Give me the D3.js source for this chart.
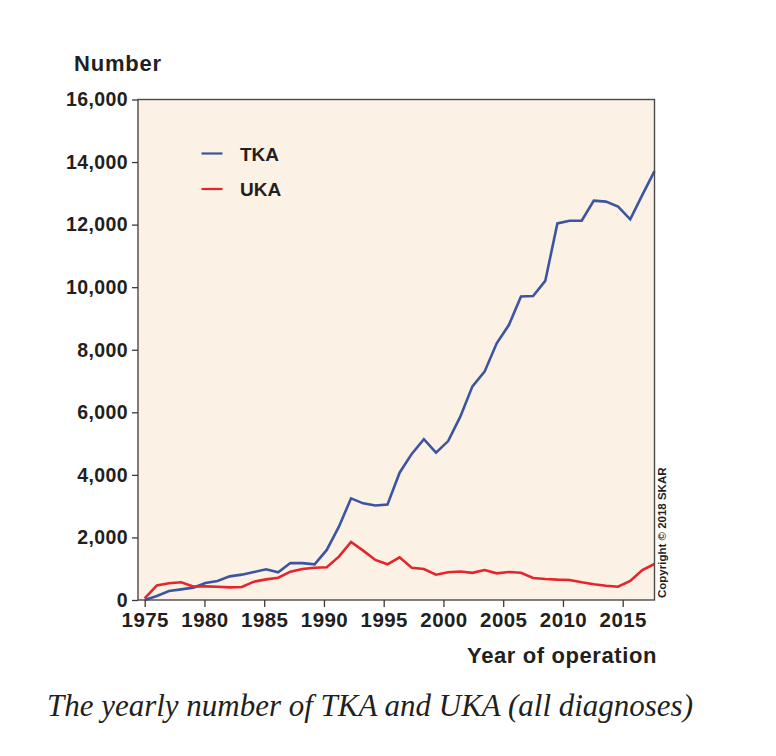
<!DOCTYPE html>
<html>
<head>
<meta charset="utf-8">
<script src="https://cdn.jsdelivr.net/npm/d3@7"></script>
<style>
  html, body { margin: 0; padding: 0; background: #ffffff; }
  svg { display: block; }
  .axis text { font-family: "Liberation Sans", Arial, sans-serif; font-weight: bold; fill: #231f20; }
  .axis line { stroke: #3a3a3a; stroke-width: 1.3; }
</style>
</head>
<body>
<svg id="chart" width="776" height="756"></svg>
<script>
// ---- data ----
const years = d3.range(1975, 2018);
const tka = [0, 130, 290, 340, 395, 545, 605, 755, 810, 895, 980, 885, 1180, 1180, 1140,
             1600, 2345, 3250, 3090, 3020, 3050, 4070, 4670, 5140, 4710, 5080, 5860, 6830,
             7300, 8205, 8790, 9700, 9720, 10200, 12040, 12125, 12125, 12765, 12735, 12575,
             12170, 12950, 13710];
const uka = [50, 468, 533, 565, 430, 437, 426, 405, 415, 586, 660, 714, 906, 991, 1030,
             1044, 1385, 1855, 1577, 1280, 1140, 1365, 1033, 991, 810, 885, 910, 868,
             959, 852, 895, 873, 703, 671, 650, 640, 565, 501, 458, 426, 607, 959, 1150];
const yTicks = [0, 2000, 4000, 6000, 8000, 10000, 12000, 14000, 16000];
const xTicks = [1975, 1980, 1985, 1990, 1995, 2000, 2005, 2010, 2015];
const seriesNames = ["TKA", "UKA"];
const seriesColors = ["#3b55a1", "#e5242b"];

// ---- layout ----
const svg = d3.select("#chart");
const frame = { left: 138, right: 654.5, top: 99.5, bottom: 600 };

const x = d3.scaleLinear().domain([1975, 2017]).range([144.7, frame.right]);
const xAxisScale = d3.scaleLinear().domain([1975, 2015]).range([144.7, 622.7]);
const y = d3.scaleLinear().domain([0, 16000]).range([frame.bottom, frame.top]);

// plot background
svg.append("rect")
  .attr("x", frame.left).attr("y", frame.top)
  .attr("width", frame.right - frame.left).attr("height", frame.bottom - frame.top)
  .attr("fill", "#fbf1e4");

// lines
const line = d3.line().x((d, i) => x(years[i])).y(d => y(d));
[tka, uka].forEach((s, k) => {
  svg.append("path")
    .datum(s)
    .attr("d", line)
    .attr("fill", "none")
    .attr("stroke", seriesColors[k])
    .attr("stroke-width", 2.6)
    .attr("stroke-linejoin", "miter");
});

// frame
svg.append("rect")
  .attr("x", frame.left).attr("y", frame.top)
  .attr("width", frame.right - frame.left).attr("height", frame.bottom - frame.top)
  .attr("fill", "none").attr("stroke", "#4a4a4a").attr("stroke-width", 1.4);

// axes
const yAxis = svg.append("g").attr("class", "axis")
  .attr("transform", `translate(${frame.left},0)`)
  .call(d3.axisLeft(y).tickValues(yTicks).tickSize(6).tickPadding(4).tickFormat(d3.format(",")));
yAxis.select(".domain").remove();
yAxis.selectAll("text").style("font-size", "19.5px").style("letter-spacing", "0.4px");

const xAxis = svg.append("g").attr("class", "axis")
  .attr("transform", `translate(0,${frame.bottom})`)
  .call(d3.axisBottom(xAxisScale).tickValues(xTicks).tickSize(7).tickPadding(5).tickFormat(d3.format("d")));
xAxis.select(".domain").remove();
xAxis.selectAll("text").style("font-size", "20.5px").style("letter-spacing", "0.4px");

// axis titles
svg.append("text")
  .attr("x", 74).attr("y", 71)
  .style("font-family", "'Liberation Sans', Arial, sans-serif")
  .style("font-weight", "bold").style("font-size", "22px").style("letter-spacing", "0.8px")
  .attr("fill", "#231f20")
  .text("Number");

svg.append("text")
  .attr("x", 657).attr("y", 663)
  .attr("text-anchor", "end")
  .style("font-family", "'Liberation Sans', Arial, sans-serif")
  .style("font-weight", "bold").style("font-size", "22px").style("letter-spacing", "0.6px")
  .attr("fill", "#231f20")
  .text("Year of operation");

// legend
const legendY = [153.5, 189];
seriesNames.forEach((n, k) => {
  svg.append("line")
    .attr("x1", 201.5).attr("x2", 222.5)
    .attr("y1", legendY[k]).attr("y2", legendY[k])
    .attr("stroke", seriesColors[k]).attr("stroke-width", 2.2);
  svg.append("text")
    .attr("x", 240).attr("y", legendY[k] + 7)
    .style("font-family", "'Liberation Sans', Arial, sans-serif")
    .style("font-weight", "bold").style("font-size", "19px")
    .attr("fill", "#231f20")
    .text(n);
});

// copyright
svg.append("text")
  .attr("transform", "translate(666,598) rotate(-90)")
  .style("font-family", "'Liberation Sans', Arial, sans-serif")
  .style("font-weight", "bold").style("font-size", "11.5px")
  .attr("fill", "#231f20")
  .text("Copyright © 2018 SKAR");

// caption
svg.append("text")
  .attr("x", 47).attr("y", 716)
  .style("font-family", "'Liberation Serif', 'Times New Roman', serif")
  .style("font-style", "italic").style("font-size", "32.5px")
  .attr("textLength", 646).attr("lengthAdjust", "spacingAndGlyphs")
  .attr("fill", "#231f20")
  .text("The yearly number of TKA and UKA (all diagnoses)");
</script>
</body>
</html>
